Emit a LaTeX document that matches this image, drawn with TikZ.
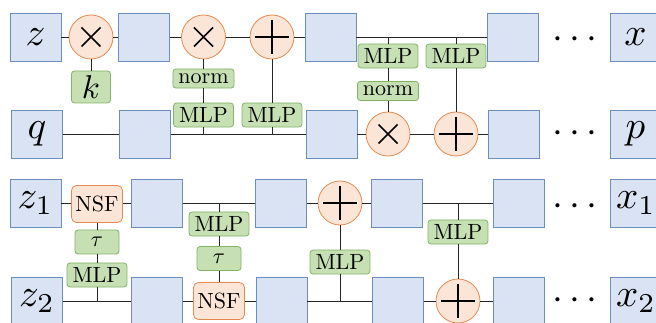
\documentclass[tikz,border=0pt]{standalone}
\usepackage{graphicx}
\usetikzlibrary{calc}
\definecolor{bfill}{HTML}{DAE3F3}
\definecolor{bdraw}{HTML}{6C8EBF}
\definecolor{ofill}{HTML}{FBE5D6}
\definecolor{odraw}{HTML}{E58A4F}
\definecolor{gfill}{HTML}{C6E0B4}
\definecolor{gdraw}{HTML}{82B366}
\newcommand\opxmark[1]{\draw[sym] ($(#1)+(-9.5,-9.5)$) -- ($(#1)+(9.5,9.5)$) ($(#1)+(-9.5,9.5)$) -- ($(#1)+(9.5,-9.5)$);}
\newcommand\oppmark[1]{\draw[sym] ($(#1)+(-17,0)$) -- ($(#1)+(17,0)$) ($(#1)+(0,-17)$) -- ($(#1)+(0,17)$);}
\newcommand\bigv[1]{\scalebox{3.9}{#1}}
\newcommand\lt[1]{\scalebox{2.2}{#1}}
\begin{document}
\begin{tikzpicture}[x=1pt,y=-1pt,
  var/.style={draw=bdraw, fill=bfill, line width=0.8pt, minimum width=51pt, minimum height=48pt, inner sep=0pt},
  op/.style={circle, draw=odraw, fill=ofill, line width=0.8pt, minimum size=44pt, inner sep=0pt},
  lbl/.style={draw=gdraw, fill=gfill, rounded corners=3pt, line width=0.8pt, inner xsep=5.5pt, inner ysep=4.5pt},
  nsfbox/.style={draw=odraw, fill=ofill, rounded corners=5pt, line width=0.8pt, minimum width=51pt, minimum height=37pt, inner sep=0pt},
  dotsn/.style={inner sep=0pt},
  wire/.style={draw=black!85, line width=0.8pt},
  sym/.style={draw=black, line width=1.6pt}]
\clip (0,0) rectangle (656,323);
% ---------- top diagram ----------
\node[var] (z) at (35.5,37) {\bigv{$z$}};
\node[op] (c1) at (91,37) {};
\node[lbl, minimum width=39pt, minimum height=32pt, inner sep=0pt] (k) at (91,87) {\scalebox{3.3}{$k$}};
\node[var] (b2) at (144,37) {};
\node[op] (c2) at (203.5,37) {};
\node[lbl] (norm1) at (203.5,78.5) {\lt{norm}};
\node[lbl] (mlp1) at (203.5,115) {\lt{MLP}};
\node[op] (c3) at (272,37) {};
\node[lbl] (mlp2) at (272,115) {\lt{MLP}};
\node[var] (b3) at (330.5,37) {};
\node[lbl] (mlp3) at (388,56) {\lt{MLP}};
\node[lbl] (norm2) at (388,91) {\lt{norm}};
\node[op] (c4) at (388,134) {};
\node[lbl] (mlp4) at (456,56) {\lt{MLP}};
\node[op] (c5) at (456,134) {};
\node[var] (b4) at (513,37) {};
\node[dotsn] (d1) at (575,40) {\bigv{$\cdots$}};
\node[var] (x) at (635.5,37) {\bigv{$x$}};
\node[var] (q) at (37,134) {\bigv{$q$}};
\node[var] (qb2) at (145,134) {};
\node[var] (qb3) at (331.5,134) {};
\node[var] (p1) at (514,134) {};
\node[dotsn] (d2) at (575,134) {\bigv{$\cdots$}};
\node[var] (p) at (635.5,134) {\bigv{$p$}};
\opxmark{c1}\opxmark{c2}\oppmark{c3}\opxmark{c4}\oppmark{c5}
\coordinate (j1) at (mlp1 |- qb2);
\coordinate (j2) at (mlp2 |- qb2);
\coordinate (j3) at (mlp3 |- b3);
\coordinate (j4) at (mlp4 |- b3);
\draw[wire] (z) -- (c1) -- (b2) -- (c2) -- (c3) -- (b3) -- (b4);
\draw[wire] (c1) -- (k);
\draw[wire] (c2) -- (norm1) -- (mlp1) -- (j1);
\draw[wire] (c3) -- (mlp2) -- (j2);
\draw[wire] (q) -- (qb2) -- (qb3) -- (c4) -- (c5) -- (p1);
\draw[wire] (j3) -- (mlp3) -- (norm2) -- (c4);
\draw[wire] (j4) -- (mlp4) -- (c5);
% ---------- bottom diagram ----------
\node[var] (z1) at (35.5,203) {\bigv{$z_1$}};
\node[nsfbox] (nsf1) at (97,204) {\lt{NSF}};
\node[lbl, minimum width=44pt, minimum height=24pt, inner sep=0pt] (tau1) at (97,242) {\lt{$\tau$}};
\node[lbl] (mlp5) at (97,275) {\lt{MLP}};
\node[var] (z2) at (37,301) {\bigv{$z_2$}};
\node[var] (bb1) at (157,203) {};
\node[var] (bb1b) at (157,301) {};
\node[lbl] (mlp6) at (219,224) {\lt{MLP}};
\node[lbl, minimum width=44pt, minimum height=24pt, inner sep=0pt] (tau2) at (219,258.5) {\lt{$\tau$}};
\node[nsfbox] (nsf2) at (219,301) {\lt{NSF}};
\node[var] (bb2) at (281,203) {};
\node[var] (bb2b) at (281.5,301) {};
\node[op] (c6) at (340,203) {};
\node[lbl] (mlp7) at (340,262) {\lt{MLP}};
\node[var] (bb3) at (397,203) {};
\node[var] (bb3b) at (398,301) {};
\node[lbl] (mlp8) at (458,232) {\lt{MLP}};
\node[op] (c7) at (458,301) {};
\node[var] (bb4) at (519,203) {};
\node[var] (bb4b) at (519,301) {};
\node[dotsn] (d3) at (575,207) {\bigv{$\cdots$}};
\node[dotsn] (d4) at (575,301) {\bigv{$\cdots$}};
\node[var] (x1) at (636,203) {\bigv{$x_1$}};
\node[var] (x2) at (636,301) {\bigv{$x_2$}};
\oppmark{c6}\oppmark{c7}
\coordinate (j5) at (mlp5 |- z2);
\coordinate (j6) at (mlp6 |- bb1);
\coordinate (j7) at (mlp7 |- bb2b);
\coordinate (j8) at (mlp8 |- bb3);
\draw[wire] (z1) -- (z1 -| nsf1.west);
\draw[wire] (nsf1.east |- bb1) -- (bb1) -- (bb2) -- (c6) -- (bb3) -- (bb4);
\draw[wire] (nsf1) -- (tau1) -- (mlp5) -- (j5);
\draw[wire] (z2) -- (bb1b) -- (nsf2) -- (bb2b) -- (bb3b) -- (c7) -- (bb4b);
\draw[wire] (j6) -- (mlp6) -- (tau2) -- (nsf2);
\draw[wire] (c6) -- (mlp7) -- (j7);
\draw[wire] (j8) -- (mlp8) -- (c7);
\end{tikzpicture}
\end{document}
